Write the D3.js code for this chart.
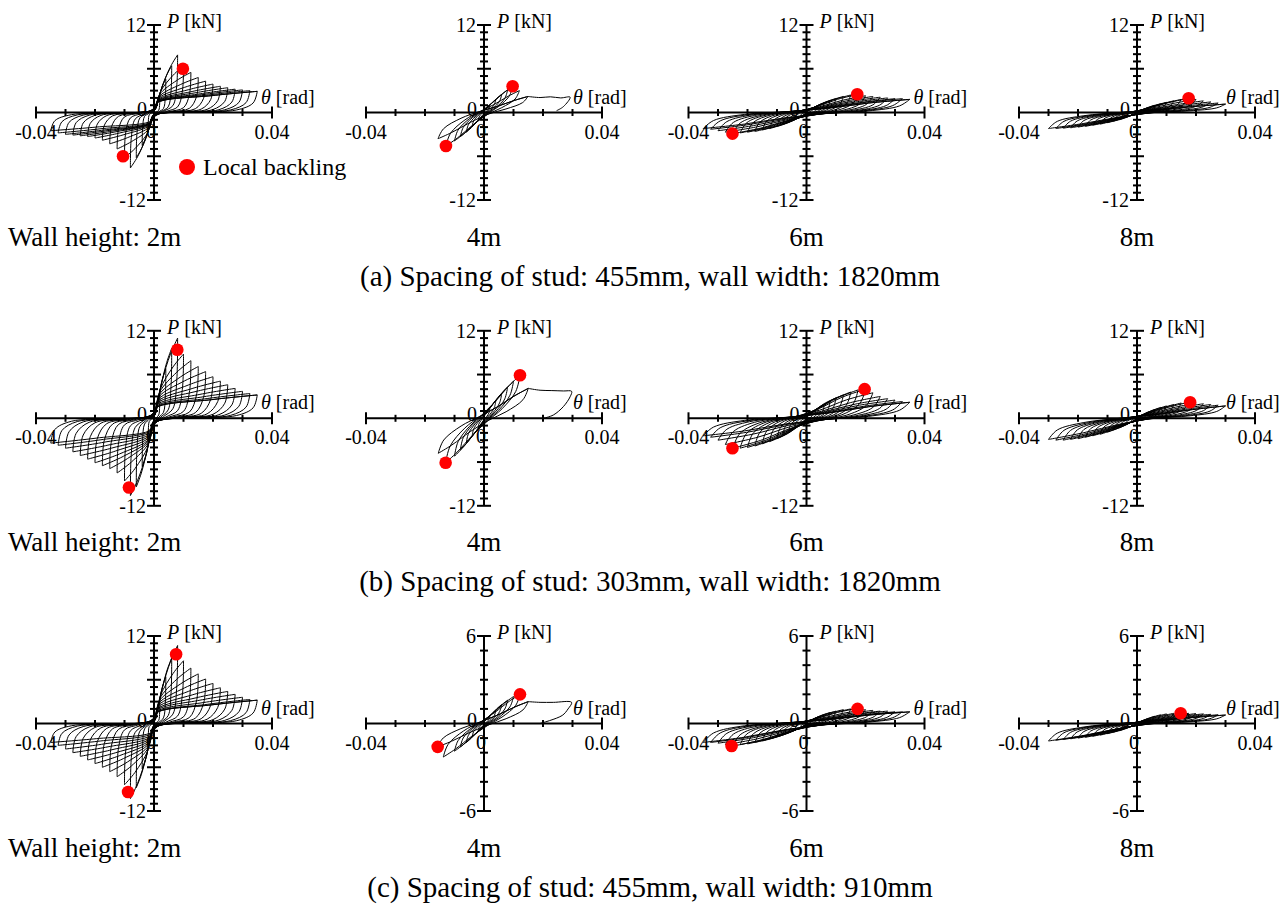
<!DOCTYPE html>
<meta charset="utf-8">
<script src="https://d3js.org/d3.v7.min.js"></script>
<style>
  body { margin: 0; background: #fff; }
  text { font-family: "Liberation Serif", "Times New Roman", serif; fill: #000; }
  .tick-label { font-size: 20px; }
  .sub-label { font-size: 27px; }
  .caption { font-size: 29px; }
  .legend { font-size: 24px; }
</style>
<div id="my_dataviz"></div>
<script>

// ---- data ----
// cycle amplitudes (rad) at the loop tips
var thLong = [0.002, 0.004, 0.006, 0.008, 0.010, 0.0125, 0.015, 0.0175, 0.020, 0.0225, 0.025, 0.0275, 0.030, 0.0325, 0.035];
var thMid  = [0.002, 0.004, 0.006, 0.008, 0.010, 0.0125, 0.015, 0.0175, 0.020, 0.0225, 0.025, 0.0275, 0.030];

// (a) stud 455mm, width 1820mm
var aPos2 = [2.6, 4.6, 6.4, 7.9, 6.4, 5.5, 4.8, 4.3, 3.9, 3.6, 3.4, 3.2, 3.1, 3.0, 2.9];
var aNeg2 = [-2.6, -4.5, -6.2, -7.6, -6.2, -5.0, -4.3, -3.8, -3.5, -3.3, -3.2, -3.1, -3.0, -2.8, -2.5];
var aTh4Pos = [0.002, 0.004, 0.006, 0.008, 0.0097, 0.012, 0.0149];
var aTh4Neg = [-0.002, -0.004, -0.006, -0.008, -0.010, -0.0129, -0.0156];
var aPos4 = [1.0, 1.8, 2.5, 3.1, 3.6, 3.0, 2.2];
var aNeg4 = [-1.1, -1.9, -2.7, -3.3, -3.9, -4.6, -3.6];
var aTail4 = [[0.0149, 2.2], [0.019, 2.05], [0.0225, 2.15], [0.026, 2.0], [0.0292, 2.1], [0.0269, 0.8], [0.0246, 0.25]];
var aPos6 = [0.5, 0.9, 1.3, 1.6, 1.9, 2.2, 2.4, 2.5, 2.3, 2.2, 2.1, 2.0, 1.9, 1.9, 1.8];
var aNeg6 = [-0.5, -0.9, -1.3, -1.6, -1.9, -2.2, -2.4, -2.6, -2.7, -2.8, -2.9, -2.7, -2.5, -2.3, -2.2];
var aPos8 = [0.4, 0.7, 1.0, 1.2, 1.4, 1.6, 1.8, 1.95, 1.8, 1.6, 1.45, 1.3, 1.15];
var aNeg8 = [-0.4, -0.7, -1.0, -1.2, -1.4, -1.6, -1.75, -1.9, -2.0, -2.1, -2.15, -2.2, -2.2];

// (b) stud 303mm, width 1820mm
var bPos2 = [3.8, 6.8, 9.6, 11.0, 8.8, 7.9, 7.1, 6.4, 5.7, 5.1, 4.6, 4.1, 3.7, 3.4, 3.2];
var bNeg2 = [-3.6, -6.6, -9.4, -10.6, -8.6, -7.5, -6.9, -6.5, -6.1, -5.6, -5.1, -4.6, -4.1, -3.7, -3.4];
var bTh4Pos = [0.002, 0.004, 0.006, 0.008, 0.010, 0.0122, 0.015];
var bTh4Neg = [-0.002, -0.004, -0.006, -0.008, -0.010, -0.013, -0.0155];
var bPos4 = [1.3, 2.4, 3.4, 4.3, 5.1, 5.9, 4.1];
var bNeg4 = [-1.3, -2.4, -3.4, -4.3, -5.2, -6.1, -4.8];
var bTail4 = [[0.015, 4.1], [0.019, 3.85], [0.023, 3.8], [0.027, 3.75], [0.0297, 3.7], [0.0292, 2.96], [0.0269, 1.6], [0.0235, 0.45], [0.0201, 0.0]];
var bPos6 = [0.6, 1.2, 1.8, 2.3, 2.8, 3.2, 3.6, 3.9, 4.0, 3.5, 3.0, 2.7, 2.5, 2.3, 2.2];
var bNeg6 = [-0.6, -1.2, -1.8, -2.3, -2.8, -3.2, -3.5, -3.8, -4.0, -4.1, -4.1, -3.6, -3.0, -2.6, -2.4];
var bPos8 = [0.5, 0.9, 1.2, 1.5, 1.7, 1.9, 2.1, 2.2, 2.1, 2.0, 1.9, 1.8, 1.7];
var bNeg8 = [-0.5, -0.9, -1.3, -1.6, -1.9, -2.2, -2.4, -2.6, -2.8, -2.9, -3.0, -3.0, -2.9];

// (c) stud 455mm, width 910mm
var cPos2 = [3.5, 6.4, 9.0, 10.7, 8.6, 7.6, 6.8, 6.1, 5.5, 4.9, 4.4, 4.0, 3.6, 3.3, 3.2];
var cNeg2 = [-3.4, -6.2, -8.8, -10.3, -8.4, -7.3, -6.6, -6.0, -5.5, -5.0, -4.5, -4.0, -3.5, -3.0, -2.6];
var cTh4Pos = [0.002, 0.004, 0.006, 0.008, 0.010, 0.0122, 0.015];
var cTh4Neg = [-0.002, -0.004, -0.006, -0.008, -0.010, -0.0138, -0.0157];
var cPos4 = [0.5, 0.9, 1.3, 1.6, 1.85, 2.0, 1.5];
var cNeg4 = [-0.5, -0.9, -1.3, -1.6, -1.9, -2.3, -1.6];
var cTail4 = [[0.015, 1.5], [0.019, 1.45], [0.0235, 1.45], [0.0297, 1.45], [0.0285, 1.0], [0.0265, 0.55], [0.019, 0.0]];
var cPos6 = [0.25, 0.45, 0.6, 0.75, 0.85, 0.95, 1.0, 1.05, 0.95, 0.9, 0.85, 0.85, 0.8, 0.8, 0.8];
var cNeg6 = [-0.25, -0.45, -0.6, -0.75, -0.9, -1.05, -1.2, -1.3, -1.4, -1.45, -1.55, -1.45, -1.35, -1.3, -1.3];
var cPos8 = [0.2, 0.35, 0.5, 0.6, 0.66, 0.7, 0.72, 0.7, 0.68, 0.66, 0.63, 0.6, 0.58];
var cNeg8 = [-0.2, -0.35, -0.5, -0.6, -0.7, -0.8, -0.88, -0.95, -1.0, -1.05, -1.1, -1.15, -1.2];

// local buckling points [theta, P]
var aDots = [[[0.0098, 6.0], [-0.0105, -6.0]], [[0.0097, 3.6], [-0.0129, -4.6]], [[0.0172, 2.5], [-0.0251, -2.9]], [[0.0175, 1.95]]];
var bDots = [[[0.0079, 9.4], [-0.0085, -9.5]], [[0.0122, 5.9], [-0.0130, -6.1]], [[0.0197, 4.0], [-0.0251, -4.1]], [[0.018, 2.2]]];
var cDots = [[[0.0075, 9.5], [-0.0088, -9.4]], [[0.0122, 2.0], [-0.0157, -1.6]], [[0.0173, 1.0], [-0.0254, -1.54]], [[0.0148, 0.7]]];

var heightLabels = ["Wall height: 2m", "4m", "6m", "8m"];
var captions = [
  "(a) Spacing of stud: 455mm, wall width: 1820mm",
  "(b) Spacing of stud: 303mm, wall width: 1820mm",
  "(c) Spacing of stud: 455mm, wall width: 910mm"
];
var yMaxes = [[12, 12, 12, 12], [12, 12, 12, 12], [12, 6, 6, 6]];

// ---- layout / style ----
var colX = [154, 484, 806.5, 1137];
var rowY = [112.5, 418.3, 723.5];
var halfW = 118, halfH = 87.5;
var thetaLabelShift = [11, 29, 11, 29];

// normalised half-loop shapes, from + tip [1,1] down to - tip [-1,-1]
var shapes = {
  slim: [[1, 1], [0.88, 0.62], [0.5, 0.22], [0.1, -0.06], [-0.3, -0.38], [-0.7, -0.76], [-1, -1]],
  long: [[1, 1], [0.9, 0.5], [0.6, 0.12], [0.2, -0.06], [-0.2, -0.32], [-0.6, -0.72], [-1, -1]],
  thin: [[1, 1], [0.9, 0.55], [0.6, 0.2], [0.2, 0.0], [-0.2, -0.28], [-0.6, -0.68], [-1, -1]]
};

function pair(th, p) { return th.map(function(t, i) { return [t, p[i]]; }); }
function neg(th) { return th.map(function(t) { return -t; }); }

var panels = [
  {row: 0, col: 0, pos: pair(thLong, aPos2), neg: pair(neg(thLong), aNeg2), shape: "fat", dots: aDots[0]},
  {row: 0, col: 1, pos: pair(aTh4Pos, aPos4), neg: pair(aTh4Neg, aNeg4), shape: "slim", tail: aTail4, dots: aDots[1]},
  {row: 0, col: 2, pos: pair(thLong, aPos6), neg: pair(neg(thLong), aNeg6), shape: "long", dots: aDots[2]},
  {row: 0, col: 3, pos: pair(thMid, aPos8), neg: pair(neg(thMid), aNeg8), shape: "thin", dots: aDots[3]},
  {row: 1, col: 0, pos: pair(thLong, bPos2), neg: pair(neg(thLong), bNeg2), shape: "fat", dots: bDots[0]},
  {row: 1, col: 1, pos: pair(bTh4Pos, bPos4), neg: pair(bTh4Neg, bNeg4), shape: "slim", tail: bTail4, dots: bDots[1]},
  {row: 1, col: 2, pos: pair(thLong, bPos6), neg: pair(neg(thLong), bNeg6), shape: "long", dots: bDots[2]},
  {row: 1, col: 3, pos: pair(thMid, bPos8), neg: pair(neg(thMid), bNeg8), shape: "thin", dots: bDots[3]},
  {row: 2, col: 0, pos: pair(thLong, cPos2), neg: pair(neg(thLong), cNeg2), shape: "fat", dots: cDots[0]},
  {row: 2, col: 1, pos: pair(cTh4Pos, cPos4), neg: pair(cTh4Neg, cNeg4), shape: "slim", tail: cTail4, dots: cDots[1]},
  {row: 2, col: 2, pos: pair(thLong, cPos6), neg: pair(neg(thLong), cNeg6), shape: "long", dots: cDots[2]},
  {row: 2, col: 3, pos: pair(thMid, cPos8), neg: pair(neg(thMid), cNeg8), shape: "thin", dots: cDots[3]}
];

var svg = d3.select("#my_dataviz").append("svg")
  .attr("width", 1288).attr("height", 904);

// pinched half loop for the 2m walls: drop at the tip, slip near zero load,
// then back up the initial stiffness k0 towards the opposite tip
function fatHalf(P, N, k0) {
  var a = Math.max(0.12 * N[1] / k0, 0.12 * N[0]);
  var b = Math.max(0.45 * N[1] / k0, 0.45 * N[0]);
  return [
    P,
    [0.96 * P[0], 0.45 * P[1]],
    [0.8 * P[0], 0.12 * P[1]],
    [0.4 * P[0], 0.02 * P[1]],
    [a, 0.12 * N[1]],
    [b, 0.45 * N[1]],
    [0.45 * b + 0.55 * N[0], 0.8 * N[1]],
    N
  ];
}

function drawPanel(p) {
  var cx = colX[p.col], cy = rowY[p.row];
  var yMax = yMaxes[p.row][p.col];
  var x = d3.scaleLinear().domain([-0.04, 0.04]).range([cx - halfW, cx + halfW]);
  var y = d3.scaleLinear().domain([-yMax, yMax]).range([cy + halfH, cy - halfH]);
  var g = svg.append("g");

  // axes
  g.append("line").attr("x1", x(-0.04)).attr("x2", x(0.04)).attr("y1", y(0)).attr("y2", y(0))
    .attr("stroke", "#000").attr("stroke-width", 2);
  g.append("line").attr("x1", x(0)).attr("x2", x(0)).attr("y1", y(yMax)).attr("y2", y(-yMax))
    .attr("stroke", "#000").attr("stroke-width", 2);

  var xt = x.ticks(8);
  g.selectAll(".xt").data(xt).enter().append("line")
    .attr("x1", function(d) { return x(d); }).attr("x2", function(d) { return x(d); })
    .attr("y1", function(d) { return y(0) - (Math.abs(d) > 0.039 ? 6 : 3.5); })
    .attr("y2", function(d) { return y(0) + (Math.abs(d) > 0.039 ? 6 : 3.5); })
    .attr("stroke", "#000").attr("stroke-width", 2);

  var yt = d3.range(-yMax, yMax + 1, 1);
  g.selectAll(".yt").data(yt).enter().append("line")
    .attr("y1", function(d) { return y(d); }).attr("y2", function(d) { return y(d); })
    .attr("x1", function(d) { return x(0) - (Math.abs(d) === yMax || (yMax === 12 && Math.abs(d) === 6) ? 7 : 4); })
    .attr("x2", function(d) { return x(0) + (Math.abs(d) === yMax || (yMax === 12 && Math.abs(d) === 6) ? 7 : 4); })
    .attr("stroke", "#000").attr("stroke-width", 2);

  // tick labels
  g.append("text").attr("class", "tick-label").attr("text-anchor", "end")
    .attr("x", x(0) - 8).attr("y", y(yMax) + 7).text(yMax);
  g.append("text").attr("class", "tick-label").attr("text-anchor", "end")
    .attr("x", x(0) - 8).attr("y", y(-yMax) + 7).text("-" + yMax);
  g.append("text").attr("class", "tick-label").attr("text-anchor", "end")
    .attr("x", x(0) - 7).attr("y", y(0) + 3).text("0");
  g.append("text").attr("class", "tick-label").attr("text-anchor", "middle")
    .attr("x", x(0) - 3).attr("y", y(0) + 25).text("0");
  g.append("text").attr("class", "tick-label").attr("text-anchor", "middle")
    .attr("x", x(-0.04)).attr("y", y(0) + 26).text("-0.04");
  g.append("text").attr("class", "tick-label").attr("text-anchor", "middle")
    .attr("x", x(0.04)).attr("y", y(0) + 26).text("0.04");

  var pl = g.append("text").attr("class", "tick-label").attr("x", x(0) + 13).attr("y", y(yMax) + 3);
  pl.append("tspan").attr("font-style", "italic").text("P");
  pl.append("tspan").text(" [kN]");
  var tl = g.append("text").attr("class", "tick-label")
    .attr("x", x(0.04) - thetaLabelShift[p.col]).attr("y", y(0) - 9);
  tl.append("tspan").attr("font-style", "italic").text("θ");
  tl.append("tspan").text(" [rad]");

  // hysteresis loops
  var line = d3.line()
    .x(function(d) { return x(d[0]); })
    .y(function(d) { return y(d[1]); })
    .curve(d3.curveCatmullRom.alpha(0.5));
  function flip(q) { return [-q[0], -q[1]]; }
  function mapPt(s, P, N) {
    return [s[0] >= 0 ? s[0] * P[0] : -s[0] * N[0], s[1] >= 0 ? s[1] * P[1] : -s[1] * N[1]];
  }
  function halfLoop(P, N, down) {
    if (p.shape === "fat") {
      var k0 = p.pos[0][1] / p.pos[0][0];
      return down ? fatHalf(P, N, k0) : fatHalf(flip(N), flip(P), k0).map(flip);
    }
    var shape = shapes[p.shape];
    return shape.map(function(s) { return mapPt(down ? s : flip(s), P, N); });
  }
  var halves = [];
  var n = p.pos.length;
  for (var i = 0; i < n; i++) {
    halves.push(halfLoop(p.pos[i], p.neg[i], true));
    halves.push(halfLoop(p.pos[Math.min(i + 1, n - 1)], p.neg[i], false));
  }
  if (p.tail) halves.push(p.tail);

  g.selectAll(".loop").data(halves).enter().append("path")
    .attr("d", line)
    .attr("fill", "none").attr("stroke", "#000").attr("stroke-width", 1);

  g.selectAll(".dot").data(p.dots).enter().append("circle")
    .attr("cx", function(d) { return x(d[0]); }).attr("cy", function(d) { return y(d[1]); })
    .attr("r", 6.3).attr("fill", "#ff0000");

  // panel label
  g.append("text").attr("class", "sub-label")
    .attr("x", p.col === 0 ? 8 : cx)
    .attr("text-anchor", p.col === 0 ? "start" : "middle")
    .attr("y", cy + 133)
    .text(heightLabels[p.col]);
}

panels.forEach(drawPanel);

captions.forEach(function(c, i) {
  svg.append("text").attr("class", "caption").attr("text-anchor", "middle")
    .attr("x", 650).attr("y", rowY[i] + 173).text(c);
});

// legend
svg.append("circle").attr("cx", 187).attr("cy", 167).attr("r", 8).attr("fill", "#ff0000");
svg.append("text").attr("class", "legend").attr("x", 203).attr("y", 175).text("Local backling");

</script>
